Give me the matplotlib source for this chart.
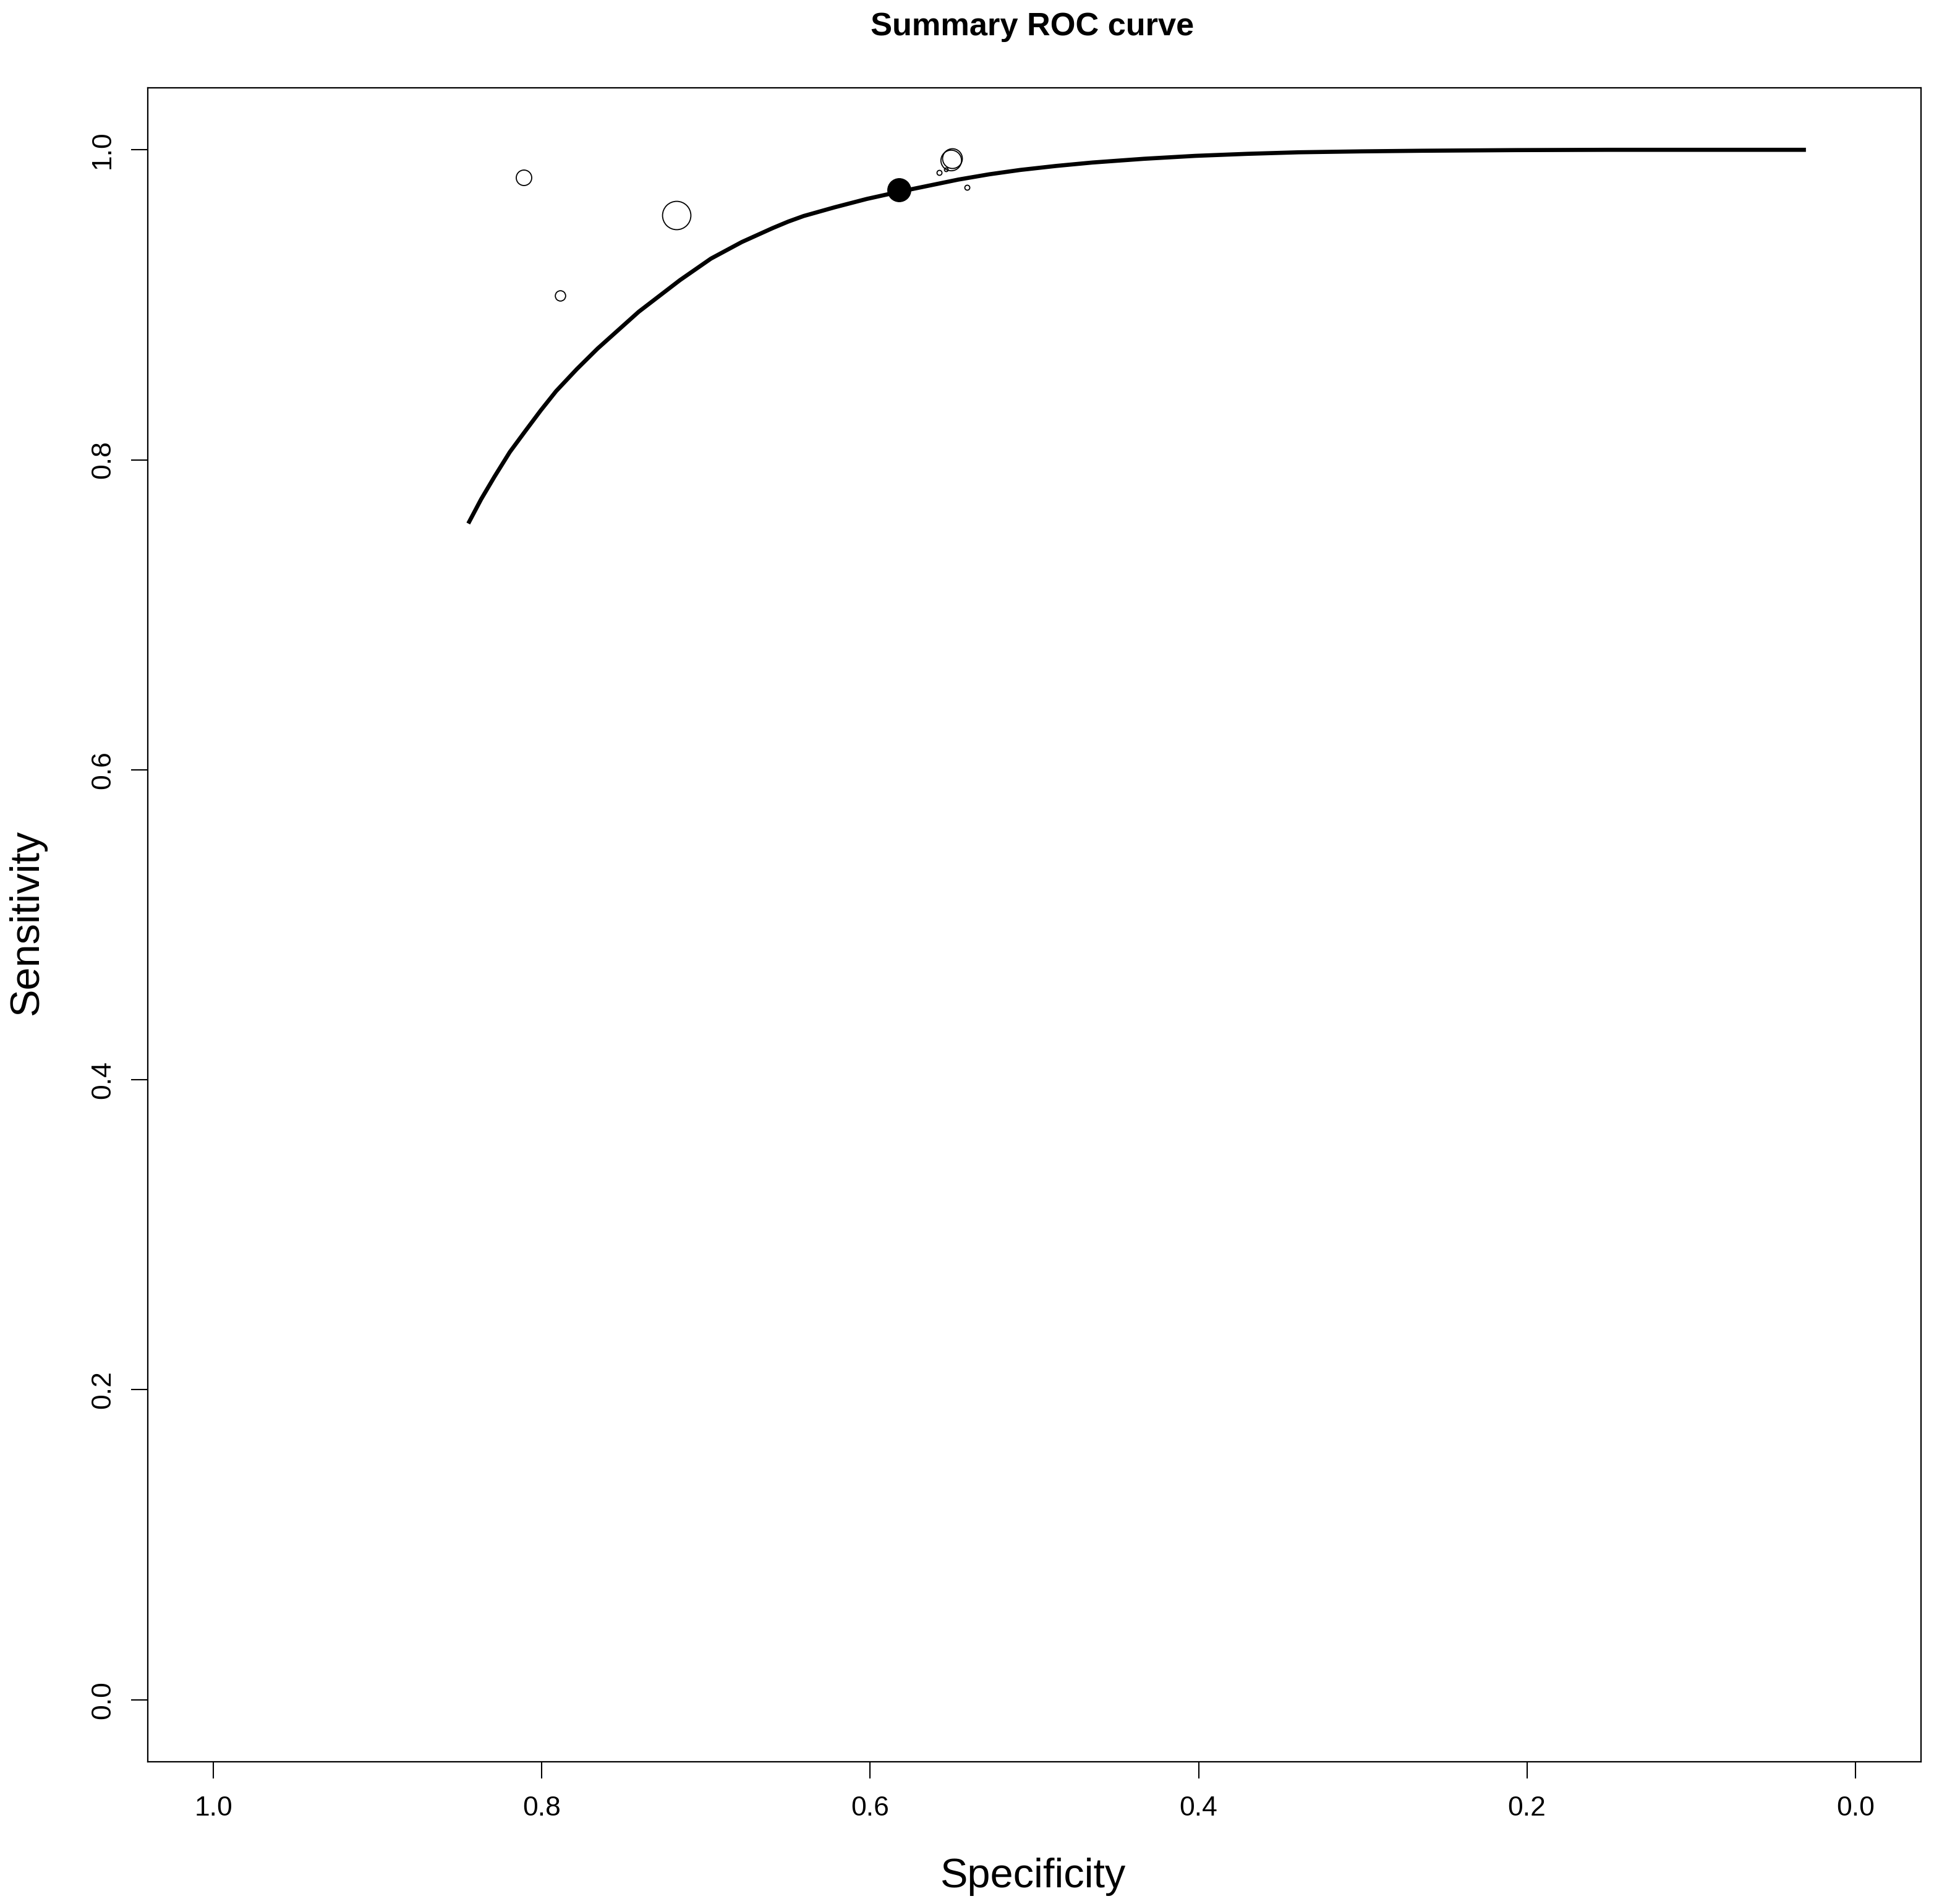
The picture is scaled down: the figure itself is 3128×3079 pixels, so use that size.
import matplotlib
matplotlib.use("Agg")
import matplotlib.pyplot as plt

plt.rcParams['font.family'] = ['Liberation Sans', 'DejaVu Sans']

# individual studies (specificity, sensitivity, relative study weight)
study_spec = [0.811, 0.789, 0.718, 0.551, 0.550, 0.558, 0.554, 0.541]
study_sens = [0.982, 0.906, 0.958, 0.9935, 0.9944, 0.9855, 0.9872, 0.9758]
study_weight = [18, 12, 33, 24, 23, 5.8, 4.3, 5.8]

# summary operating point
summary_spec = [0.5824]
summary_sens = [0.974]

# SROC curve
curve_spec = [0.8448, 0.8370, 0.8289, 0.8195, 0.8101, 0.8007, 0.7913, 0.7787,
              0.7661, 0.741, 0.7159, 0.697, 0.6782, 0.6594, 0.6499, 0.6405,
              0.6217, 0.6021, 0.5825, 0.5463, 0.5275, 0.5087, 0.4867, 0.4647,
              0.4334, 0.402, 0.3705, 0.339, 0.301, 0.2638, 0.2073, 0.1507,
              0.0301]
curve_sens = [0.7589, 0.7745, 0.789, 0.805, 0.8185, 0.8318, 0.8443, 0.8585,
              0.8717, 0.8955, 0.9159, 0.9298, 0.9405, 0.9495, 0.9537, 0.9573,
              0.9629, 0.9683, 0.9729, 0.9808, 0.9842, 0.987, 0.9896, 0.9918,
              0.9942, 0.9961, 0.9974, 0.9984, 0.999, 0.9994, 0.9998, 1.0,
              1.0]

ticks = [0.0, 0.2, 0.4, 0.6, 0.8, 1.0]
tick_labels = ["0.0", "0.2", "0.4", "0.6", "0.8", "1.0"]

W, H = 3128, 3079
fig = plt.figure(figsize=(W / 100, H / 100), dpi=100)
ax = fig.add_axes([239 / W, 1 - 2849 / H, (3107 - 239) / W, (2849 - 142) / H])

ax.plot(curve_spec, curve_sens, color='black', lw=4.8,
        solid_capstyle='butt', solid_joinstyle='round')

for x, y, w in zip(study_spec, study_sens, study_weight):
    ax.plot(x, y, 'o', ms=w, mfc='none', mec='black', mew=1.3)

ax.plot(summary_spec, summary_sens, 'o', ms=27, mfc='black', mec='black')

ax.set_xlim(1.04, -0.04)
ax.set_ylim(-0.04, 1.04)
ax.set_xticks(ticks)
ax.set_xticklabels(tick_labels)
ax.set_yticks(ticks)
ax.set_yticklabels(tick_labels, rotation=90, va='center')
ax.tick_params(axis='both', length=19.5, width=1.5, labelsize=32)
ax.tick_params(axis='x', pad=20)
ax.tick_params(axis='y', pad=18)
for s in ax.spines.values():
    s.set_linewidth(1.6)

fig.text(1670 / W, 1 - 57 / H, "Summary ROC curve", ha='center', va='baseline',
         fontsize=37.7, fontweight='bold')
fig.text(1670 / W, 1 - 3052 / H, "Specificity", ha='center', va='baseline',
         fontsize=48)
fig.text(44 / W, 1 - 1492 / H, "Sensitivity", ha='center', va='center',
         rotation=90, fontsize=48)

fig.savefig("out.png", dpi=100, facecolor='white')
